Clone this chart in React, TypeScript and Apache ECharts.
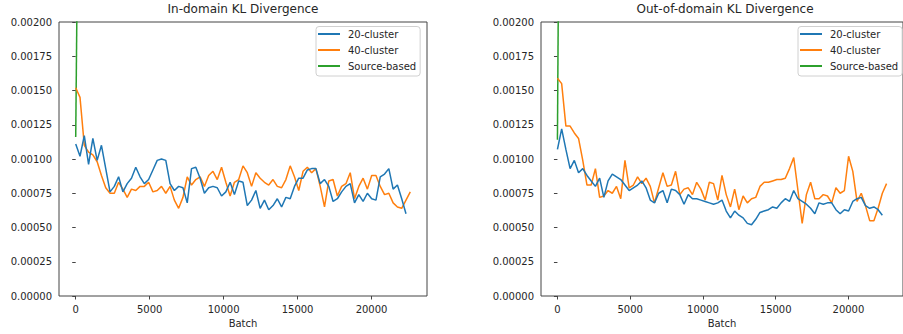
import React, { useEffect, useRef } from "react";
import * as echarts from "echarts";

// Batch spacing between logged points
const BATCH_STEP = 290;
const X_TICKS = [0, 5000, 10000, 15000, 20000];

const TITLES = ["In-domain KL Divergence", "Out-of-domain KL Divergence"];
const SERIES_NAMES = ["20-cluster", "40-cluster", "Source-based"];
const COLORS = ["#1f77b4", "#ff7f0e", "#2ca02c"];

const IN_20 = [
  0.00111, 0.00102, 0.00117, 0.00096, 0.00115, 0.00099, 0.0011, 0.00093, 0.00076, 0.0008,
  0.00087, 0.00076, 0.00082, 0.00086, 0.00094, 0.00087, 0.00082, 0.00085, 0.00092, 0.00099,
  0.001, 0.00099, 0.00082, 0.00077, 0.0008, 0.00079, 0.00068, 0.00093, 0.00094, 0.00086,
  0.00075, 0.00079, 0.0008, 0.00079, 0.00073, 0.00076, 0.00083, 0.00074, 0.00084, 0.00083,
  0.00066, 0.0007, 0.00077, 0.00064, 0.0007, 0.00063, 0.00066, 0.00071, 0.00065, 0.00072,
  0.00071, 0.0008, 0.00086, 0.00086, 0.00092, 0.00093, 0.00093, 0.00082, 0.00085, 0.0008,
  0.00069, 0.00071, 0.00076, 0.0008, 0.00082, 0.00068, 0.00074, 0.00069, 0.00075, 0.00071,
  0.0007, 0.00087, 0.00089, 0.00093, 0.00078, 0.00081, 0.00071, 0.0006,
];

const IN_40 = [
  0.00152, 0.00145, 0.0011, 0.00105, 0.00103, 0.00098, 0.00088, 0.00079, 0.00075, 0.00075,
  0.00083, 0.00078, 0.00072, 0.00078, 0.00077, 0.0008, 0.0008, 0.00083, 0.00076, 0.00077,
  0.0008, 0.00075, 0.0008, 0.0007, 0.00064, 0.00072, 0.00087, 0.00081, 0.00085, 0.00087,
  0.0008, 0.00088, 0.00091, 0.00085, 0.00094, 0.00083, 0.00073, 0.00083, 0.00085, 0.00095,
  0.0009, 0.0008, 0.0009, 0.00086, 0.00083, 0.00081, 0.00085, 0.0008, 0.00079, 0.00085,
  0.00095, 0.00087, 0.00077, 0.00091, 0.00094, 0.0009, 0.00093, 0.0008, 0.00065, 0.00084,
  0.00085, 0.00073, 0.0008, 0.00082, 0.0009, 0.00071, 0.0008, 0.00086, 0.00078, 0.00088,
  0.00088, 0.0008, 0.00074, 0.00075, 0.00068, 0.00065, 0.00064, 0.0007, 0.00076,
];

const IN_SRC = [0.00116, 0.0045];

const OUT_20 = [
  0.00107, 0.00122, 0.00107, 0.00093, 0.00099, 0.0009, 0.00093, 0.00088, 0.00084, 0.0008,
  0.00086, 0.00072, 0.00084, 0.00089, 0.00087, 0.00085, 0.00081, 0.00077, 0.00079, 0.00081,
  0.00084, 0.00079, 0.0007, 0.00068, 0.00075, 0.00077, 0.00068, 0.00078, 0.00077, 0.00074,
  0.00067, 0.00074, 0.00071, 0.00071, 0.0007, 0.00069, 0.00068, 0.00067, 0.00068, 0.0007,
  0.00062, 0.00057, 0.00062, 0.00059, 0.00057, 0.00053, 0.00052, 0.00056, 0.00061, 0.00062,
  0.00063, 0.00065, 0.00064, 0.00068, 0.00071, 0.00069, 0.00077, 0.00071, 0.00069, 0.00067,
  0.00064, 0.0006, 0.00068, 0.00067, 0.00068, 0.00068, 0.00063, 0.0006, 0.00063, 0.00062,
  0.00069, 0.00071, 0.00072, 0.00066, 0.00064, 0.00065, 0.00063, 0.00059,
];

const OUT_40 = [
  0.00159, 0.00155, 0.00124, 0.00124, 0.00119, 0.00115, 0.00099, 0.00081, 0.00081, 0.00093,
  0.00072, 0.00073, 0.00077, 0.00075, 0.0008, 0.00071, 0.00099, 0.00079, 0.00081, 0.00087,
  0.00082, 0.00086, 0.0008, 0.00068, 0.00079, 0.0009, 0.0008, 0.00081, 0.00091, 0.00074,
  0.00078, 0.00079, 0.00074, 0.00083, 0.00078, 0.0007, 0.00083, 0.00082, 0.0007, 0.00088,
  0.00074, 0.00065, 0.00078, 0.00063, 0.00073, 0.00068, 0.00071, 0.00072, 0.0008, 0.00083,
  0.00083, 0.00084, 0.00085, 0.00085, 0.00086, 0.00093, 0.00101, 0.00077, 0.00053, 0.00074,
  0.00083, 0.00071, 0.00071, 0.00074, 0.00073, 0.00068, 0.00079, 0.00075, 0.00077, 0.00102,
  0.00091, 0.00069, 0.00075, 0.00066, 0.00055, 0.00055, 0.00064, 0.00075, 0.00082,
];

const OUT_SRC = [0.00114, 0.006];

const PANELS = [
  [IN_20, IN_40, IN_SRC],
  [OUT_20, OUT_40, OUT_SRC],
];

const FONT = "DejaVu Sans";
const TEXT = "#262626";

const toPairs = (arr: number[]) => arr.map((v, i) => [i * BATCH_STEP, v]);

export default function App() {
  const ref = useRef<HTMLDivElement>(null);
  useEffect(() => {
    if (!ref.current) return;
    const chart = echarts.init(ref.current, undefined, { renderer: "svg" });
    const grids = [
      { left: 59, top: 22, width: 368, height: 274 },
      { left: 541, top: 22, width: 368, height: 274 },
    ];
    const centers = [243, 725];
    const legendLefts = [316, 798];

    const option: any = {
      animation: false,
      textStyle: { fontFamily: FONT },
      title: TITLES.map((t, k) => ({
        text: t,
        left: centers[k],
        top: 3,
        textAlign: "center",
        padding: 0,
        textStyle: { fontFamily: FONT, fontSize: 12, fontWeight: "normal", color: TEXT },
      })),
      legend: legendLefts.map((l) => ({
        data: SERIES_NAMES,
        orient: "vertical",
        left: l,
        top: 26.5,
        padding: [1.5, 4, 4, 2],
        itemGap: 4,
        itemWidth: 22,
        itemHeight: 2,
        icon: "rect",
        selectedMode: false,
        borderColor: "#d0d0d0",
        borderWidth: 1,
        borderRadius: 3,
        backgroundColor: "rgba(255,255,255,0.85)",
        textStyle: {
          fontFamily: FONT,
          fontSize: 10,
          lineHeight: 12,
          color: TEXT,
          padding: [0, 0, 0, 3],
        },
      })),
      grid: grids.map((g) => ({
        ...g,
        show: true,
        borderColor: "#444",
        borderWidth: 1,
        backgroundColor: "transparent",
      })),
      xAxis: grids.map((_, k) => ({
        type: "value",
        gridIndex: k,
        min: -1130,
        max: 23750,
        name: "Batch",
        nameLocation: "middle",
        nameGap: 21,
        nameTextStyle: { fontFamily: FONT, fontSize: 10, color: TEXT },
        axisLine: { show: false },
        axisTick: { show: true, length: 3.5, customValues: X_TICKS, lineStyle: { color: "#444" } },
        axisLabel: {
          customValues: X_TICKS,
          fontFamily: FONT,
          fontSize: 10,
          color: TEXT,
          margin: 8,
          formatter: (v: number) => String(v),
        },
        splitLine: { show: false },
      })),
      yAxis: grids.map((_, k) => ({
        type: "value",
        gridIndex: k,
        min: 0,
        max: 0.002,
        interval: 0.00025,
        axisLine: { show: false },
        axisTick: { show: true, length: 3.5, lineStyle: { color: "#444" } },
        axisLabel: {
          fontFamily: FONT,
          fontSize: 10,
          color: TEXT,
          margin: 7,
          formatter: (v: number) => v.toFixed(5),
        },
        splitLine: { show: false },
      })),
      series: PANELS.flatMap((panel, k) =>
        panel.map((arr, s) => ({
          type: "line",
          name: SERIES_NAMES[s],
          xAxisIndex: k,
          yAxisIndex: k,
          data: toPairs(arr),
          symbol: "none",
          showSymbol: false,
          clip: true,
          color: COLORS[s],
          lineStyle: { width: 1.5, color: COLORS[s] },
          z: 3 - s,
        }))
      ),
    };
    chart.setOption(option);
    return () => chart.dispose();
  }, []);
  return (
    <div
      ref={ref}
      style={{ position: "absolute", left: 0, top: 0, width: 903, height: 334, overflow: "hidden", background: "#fff" }}
    />
  );
}
